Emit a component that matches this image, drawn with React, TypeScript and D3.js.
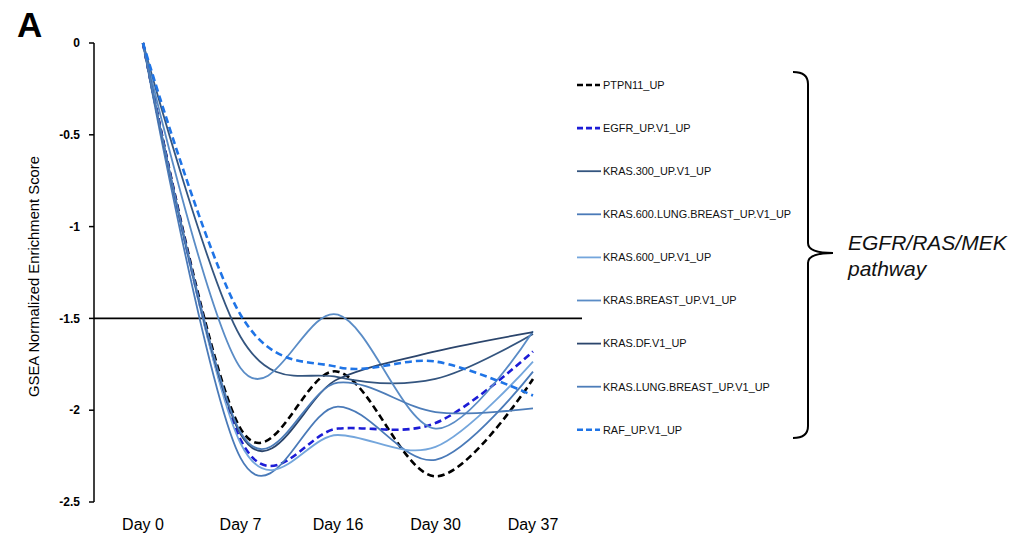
import React from "react";
import * as d3 from "d3";

const days = ["Day 0", "Day 7", "Day 16", "Day 30", "Day 37"];
const yTicks = [0, -0.5, -1, -1.5, -2, -2.5];
const tickLabels = ["0", "-0.5", "-1", "-1.5", "-2", "-2.5"];
const threshold = -1.5;

const PTPN11_UP = [0, -2.1, -1.79, -2.36, -1.83];
const EGFR_UP = [0, -2.16, -2.1, -2.07, -1.68];
const KRAS_300 = [0, -1.6, -1.82, -1.83, -1.585];
const KRAS_600_LUNG_BREAST = [0, -2.26, -1.98, -2.27, -1.79];
const KRAS_600 = [0, -2.18, -2.135, -2.2, -1.735];
const KRAS_BREAST = [0, -1.77, -1.48, -2.1, -1.57];
const KRAS_DF = [0, -2.13, -1.83, -1.68, -1.575];
const KRAS_LUNG_BREAST = [0, -2.12, -1.85, -2.01, -1.99];
const RAF_UP = [0, -1.48, -1.765, -1.735, -1.92];

const seriesNames = [
  "PTPN11_UP",
  "EGFR_UP.V1_UP",
  "KRAS.300_UP.V1_UP",
  "KRAS.600.LUNG.BREAST_UP.V1_UP",
  "KRAS.600_UP.V1_UP",
  "KRAS.BREAST_UP.V1_UP",
  "KRAS.DF.V1_UP",
  "KRAS.LUNG.BREAST_UP.V1_UP",
  "RAF_UP.V1_UP",
];
const seriesValues = [
  PTPN11_UP,
  EGFR_UP,
  KRAS_300,
  KRAS_600_LUNG_BREAST,
  KRAS_600,
  KRAS_BREAST,
  KRAS_DF,
  KRAS_LUNG_BREAST,
  RAF_UP,
];
const seriesColors = [
  "#000000",
  "#1c1cd6",
  "#34557f",
  "#4a7ab8",
  "#74a6dc",
  "#5a8cc6",
  "#2b456c",
  "#4d7db9",
  "#1f74e6",
];
const seriesDashed = [true, true, false, false, false, false, false, false, true];

const groupLabel1 = "EGFR/RAS/MEK";
const groupLabel2 = "pathway";
const panelLabel = "A";
const yTitle = "GSEA Normalized Enrichment Score";

export default function App() {
  const W = 1026;
  const H = 535;
  const x = d3.scalePoint<string>().domain(days).range([143, 533]);
  const y = d3.scaleLinear().domain([0, -2.5]).range([43, 502]);
  const line = d3
    .line<number>()
    .x((_, i) => x(days[i]) as number)
    .y((d) => y(d))
    .curve(d3.curveCardinal.tension(0));

  const legendX = 577;
  const legendY0 = 85;
  const legendStep = 43.1;
  const font = "Arial, 'Liberation Sans', sans-serif";

  const bTop = 72;
  const bBot = 438;
  const bMid = 253;
  const bx0 = 793;
  const bx = 808;
  const tip = 833;
  const brace = [
    `M${bx0},${bTop}`,
    `Q${bx},${bTop} ${bx},${bTop + 12}`,
    `L${bx},${bMid - 10}`,
    `Q${bx},${bMid} ${tip},${bMid}`,
    `Q${bx},${bMid} ${bx},${bMid + 10}`,
    `L${bx},${bBot - 12}`,
    `Q${bx},${bBot} ${bx0},${bBot}`,
  ].join(" ");

  return (
    <svg
      width={W}
      height={H}
      style={{ position: "absolute", left: 0, top: 0, background: "#fff" }}
      fontFamily={font}
    >
      <rect x={0} y={0} width={W} height={H} fill="#fff" />
      <text x={17} y={37} fontSize={35} fontWeight="bold" fill="#000">
        {panelLabel}
      </text>
      <line x1={94} x2={94} y1={y(0)} y2={y(-2.5)} stroke="#000" strokeWidth={1.5} />
      {yTicks.map((t, i) => (
        <g key={t}>
          <line x1={89} x2={94} y1={y(t)} y2={y(t)} stroke="#000" strokeWidth={1.5} />
          <text
            x={80}
            y={y(t)}
            dy="0.35em"
            textAnchor="end"
            fontSize={12}
            fontWeight="bold"
            fill="#000"
          >
            {tickLabels[i]}
          </text>
        </g>
      ))}
      <text
        transform={`translate(39,${(y(0) + y(-2.5)) / 2 + 4}) rotate(-90)`}
        textAnchor="middle"
        fontSize={14.8}
        fill="#000"
      >
        {yTitle}
      </text>
      {days.map((d) => (
        <text
          key={d}
          x={x(d)}
          y={530}
          textAnchor="middle"
          fontSize={16}
          fill="#000"
        >
          {d}
        </text>
      ))}
      <line
        x1={94}
        x2={582}
        y1={y(threshold)}
        y2={y(threshold)}
        stroke="#000"
        strokeWidth={1.8}
      />
      {seriesValues.map((vals, i) => (
        <path
          key={seriesNames[i]}
          d={line(vals) || ""}
          fill="none"
          stroke={seriesColors[i]}
          strokeWidth={seriesDashed[i] ? 2.6 : 1.8}
          strokeDasharray={seriesDashed[i] ? "7,4" : undefined}
        />
      ))}
      {seriesNames.map((n, i) => {
        const ly = legendY0 + i * legendStep;
        return (
          <g key={n}>
            <line
              x1={legendX}
              x2={seriesDashed[i] ? 600 : 601}
              y1={ly}
              y2={ly}
              stroke={seriesColors[i]}
              strokeWidth={seriesDashed[i] ? 2.6 : 1.8}
              strokeDasharray={seriesDashed[i] ? "6,3" : undefined}
            />
            <text x={603} y={ly} dy="0.35em" fontSize={10.9} fill="#111">
              {n}
            </text>
          </g>
        );
      })}
      <path d={brace} fill="none" stroke="#000" strokeWidth={2} />
      <text x={848} y={250} fontSize={21} fontStyle="italic" fill="#111">
        {groupLabel1}
      </text>
      <text x={848} y={276} fontSize={21} fontStyle="italic" fill="#111">
        {groupLabel2}
      </text>
    </svg>
  );
}
